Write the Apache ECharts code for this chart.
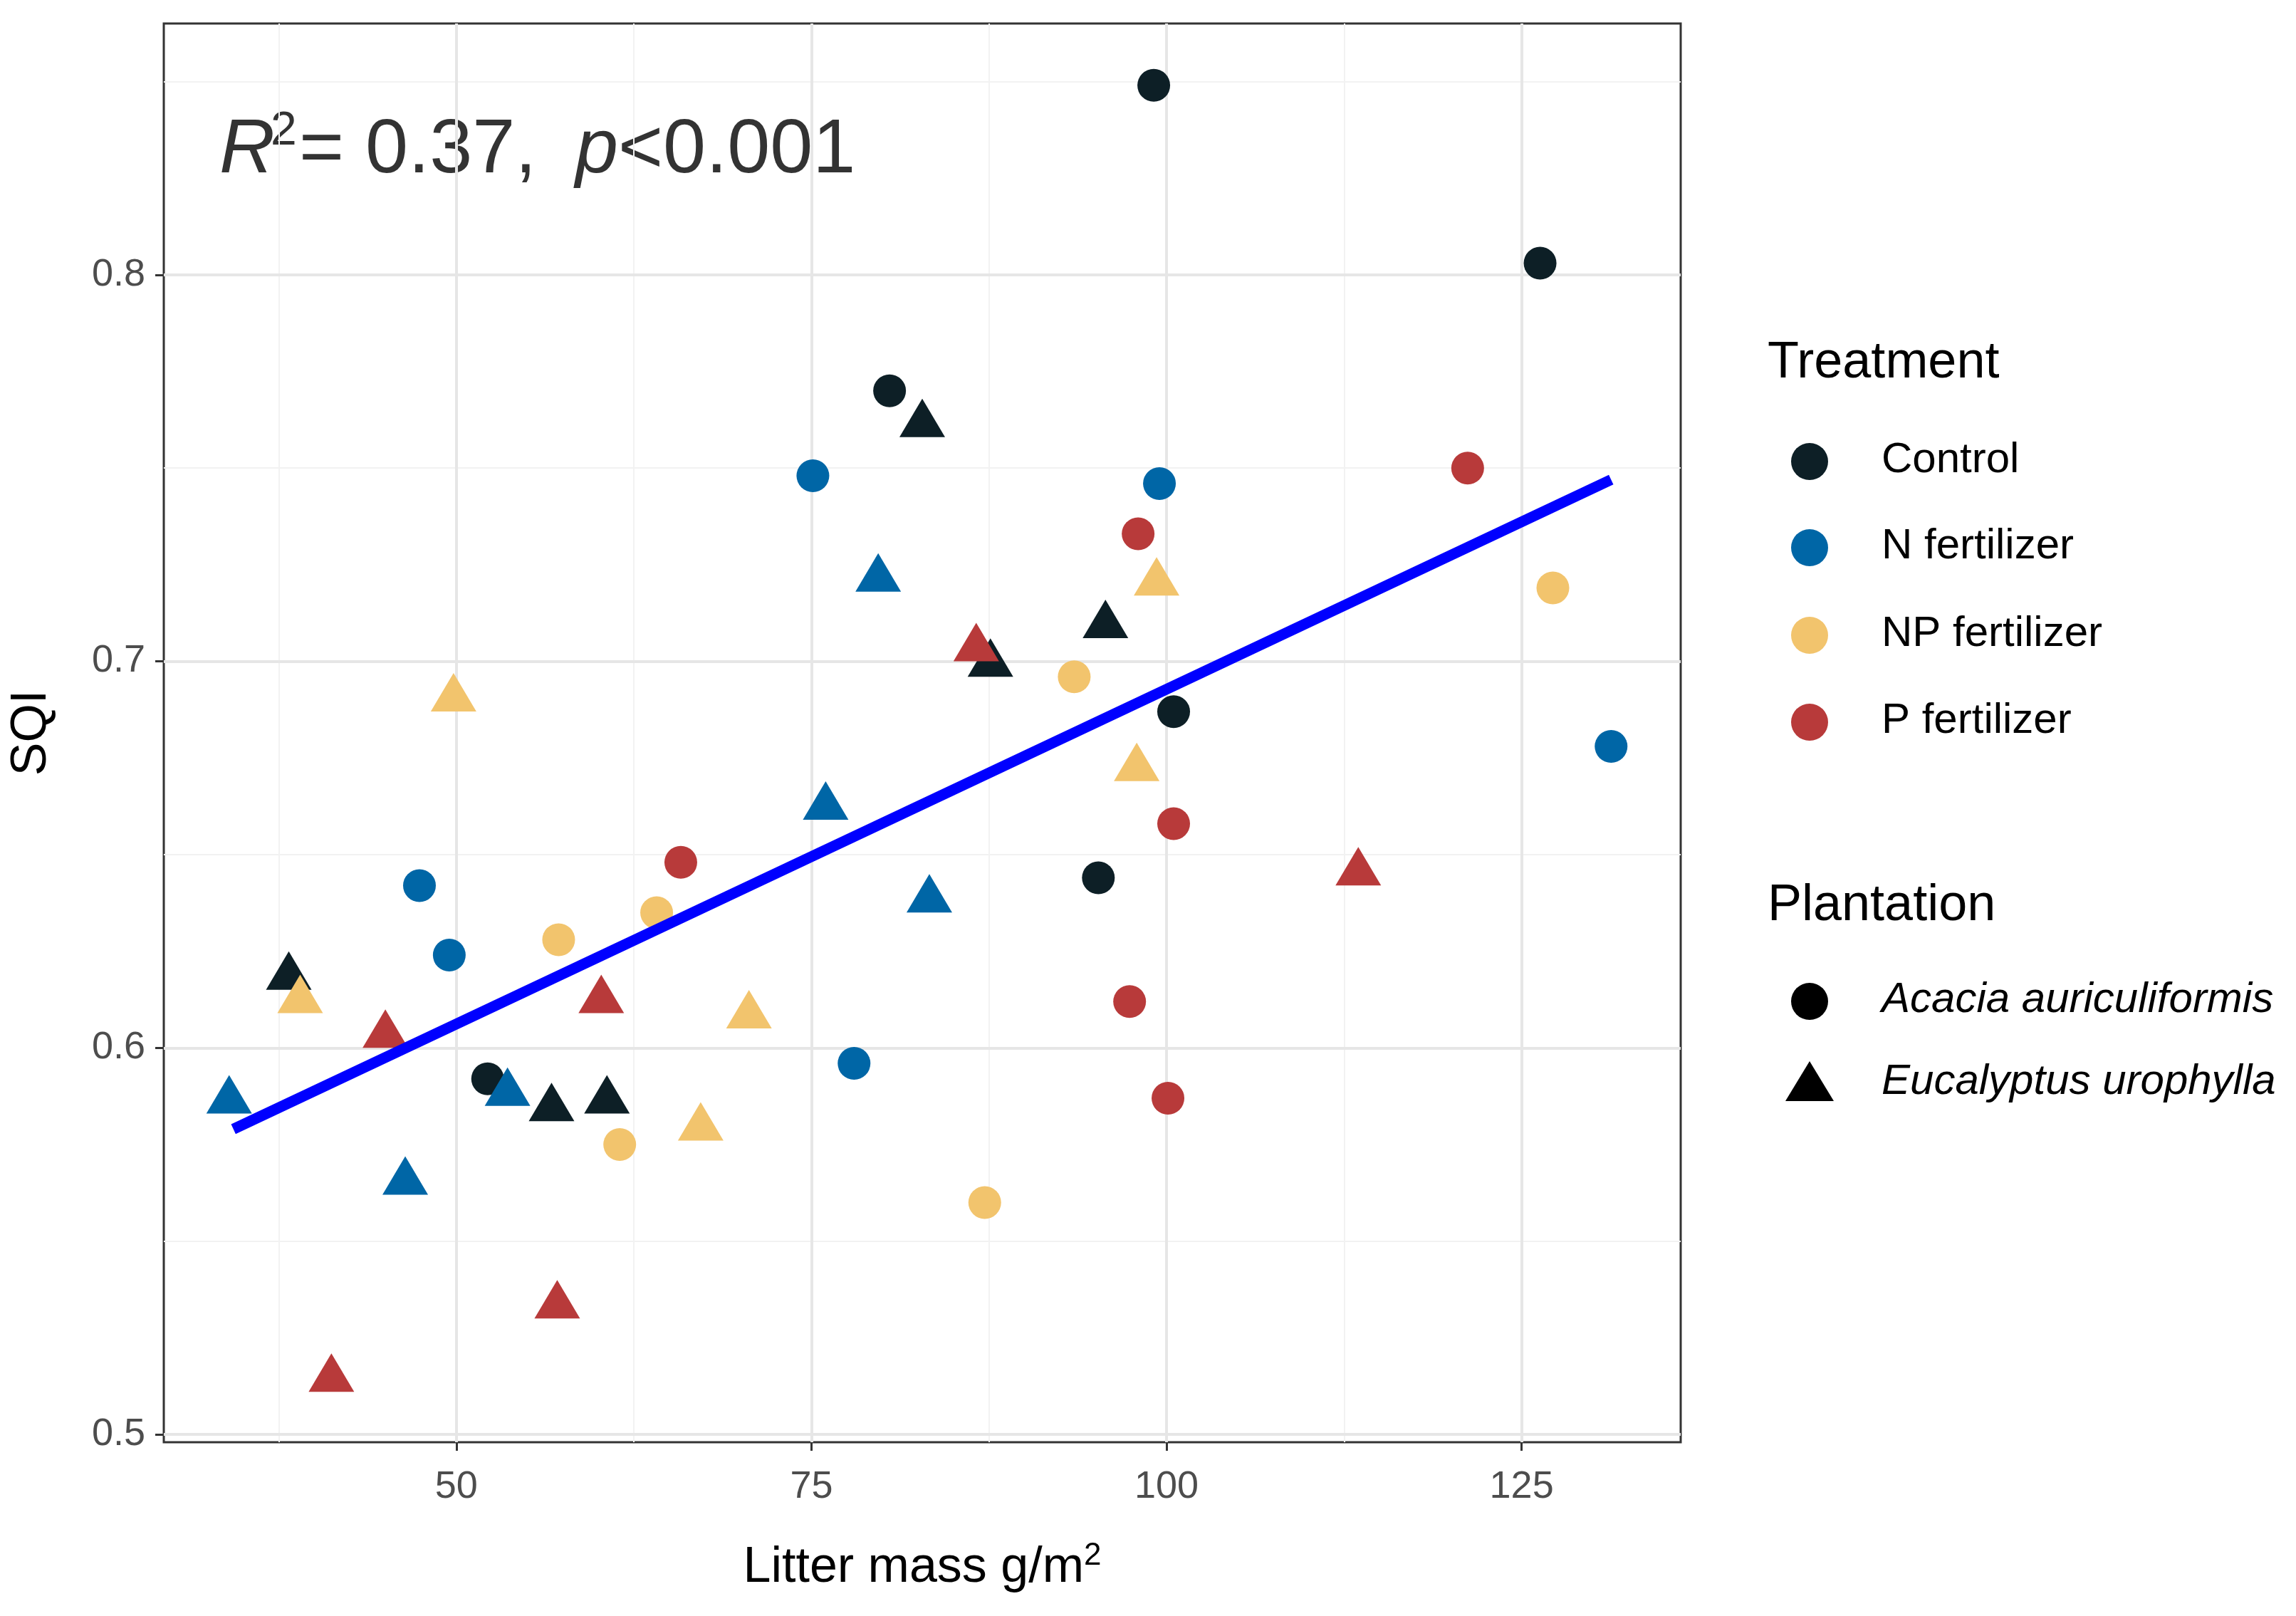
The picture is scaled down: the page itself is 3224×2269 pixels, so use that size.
<!DOCTYPE html><html><head><meta charset="utf-8">
<script src="https://cdn.jsdelivr.net/npm/echarts@6/dist/echarts.min.js"></script>
<style>html,body{margin:0;background:#fff}#c{width:3224px;height:2269px}</style></head><body><div id="c"></div>
<script>
const treatments=["Control","N fertilizer","NP fertilizer","P fertilizer"];
const colors=["#0d1f26","#0066a6","#f2c46d","#b83a3a"];
const plantations=["Acacia auriculiformis","Eucalyptus urophylla"];
const controlAcacia=[[99.1,0.849],[126.3,0.803],[80.5,0.770],[100.5,0.687],[95.2,0.644],[52.2,0.592]];
const controlEuc=[[82.8,0.763],[95.7,0.711],[87.6,0.701],[38.2,0.620],[56.7,0.586],[60.6,0.588]];
const nAcacia=[[75.1,0.748],[99.5,0.746],[131.3,0.678],[47.4,0.642],[49.5,0.624],[78.0,0.596]];
const nEuc=[[79.7,0.723],[76.0,0.664],[83.3,0.640],[34.0,0.588],[53.6,0.590],[46.4,0.567]];
const npAcacia=[[127.2,0.719],[93.5,0.696],[57.2,0.628],[64.1,0.635],[61.5,0.575],[87.2,0.560]];
const npEuc=[[99.3,0.722],[49.8,0.692],[97.9,0.674],[39.0,0.614],[70.6,0.610],[67.2,0.581]];
const pAcacia=[[121.2,0.750],[98.0,0.733],[100.5,0.658],[65.8,0.648],[97.4,0.612],[100.1,0.587]];
const pEuc=[[86.6,0.705],[113.5,0.647],[45.0,0.605],[60.2,0.614],[57.1,0.535],[41.2,0.516]];
const fitLine=[[34.3,0.579],[131.3,0.747]];
const xTicks=[50,75,100,125], xMinor=[37.5,62.5,87.5,112.5];
const yTicks=[0.5,0.6,0.7,0.8], yMinor=[0.55,0.65,0.75,0.85];
const acacia=[controlAcacia,nAcacia,npAcacia,pAcacia], euc=[controlEuc,nEuc,npEuc,pEuc];
const F='"Liberation Sans", Arial, sans-serif';

const gridLines={type:'line',data:[],silent:true,z:0,zlevel:0,markLine:{silent:true,symbol:'none',label:{show:false},animation:false,
 data:[...xMinor.map(v=>({xAxis:v,lineStyle:{color:'#f2f2f2',width:2,type:'solid'}})),
       ...yMinor.map(v=>({yAxis:v,lineStyle:{color:'#f2f2f2',width:2,type:'solid'}})),
       ...xTicks.map(v=>({xAxis:v,lineStyle:{color:'#e6e6e6',width:4,type:'solid'}})),
       ...yTicks.map(v=>({yAxis:v,lineStyle:{color:'#e6e6e6',width:4,type:'solid'}}))]}};
const series=[gridLines];
treatments.forEach((t,i)=>{
 series.push({type:'scatter',data:acacia[i],symbol:'circle',symbolSize:46,itemStyle:{color:colors[i],opacity:1},zlevel:1});
 series.push({type:'scatter',data:euc[i],symbol:'triangle',symbolSize:[64,54],itemStyle:{color:colors[i],opacity:1},zlevel:1});
});
series.push({type:'line',data:fitLine,symbol:'none',lineStyle:{color:'#0000ff',width:15},zlevel:1,z:5});

const lg=[];
lg.push({type:'text',left:2482,top:474,style:{text:'Treatment',font:'72px '+F,fill:'#000'}});
const ty=[648,769,892,1014];
treatments.forEach((t,i)=>{
 lg.push({type:'circle',shape:{cx:2541,cy:ty[i],r:26},style:{fill:colors[i]}});
 lg.push({type:'text',left:2642,top:ty[i]-32,style:{text:t,font:'60px '+F,fill:'#000'}});
});
lg.push({type:'text',left:2482,top:1236,style:{text:'Plantation',font:'72px '+F,fill:'#000'}});
lg.push({type:'circle',shape:{cx:2541,cy:1406,r:26},style:{fill:'#000'}});
lg.push({type:'polygon',shape:{points:[[2541,1490],[2507,1546],[2575,1546]]},style:{fill:'#000'}});
plantations.forEach((p,i)=>lg.push({type:'text',left:2642,top:[1406,1521][i]-32,style:{text:p,font:'italic 60px '+F,fill:'#000'}}));
lg.push({type:'text',left:308,top:158,style:{text:'R',font:'italic 108px '+F,fill:'#333'}});
lg.push({type:'text',left:380,top:152,style:{text:'2',font:'66px '+F,fill:'#333'}});
lg.push({type:'text',left:420,top:158,style:{text:'= 0.37,',font:'108px '+F,fill:'#333'}});
lg.push({type:'text',left:808,top:158,style:{text:'p',font:'italic 108px '+F,fill:'#333'}});
lg.push({type:'text',left:868,top:158,style:{text:'<0.001',font:'108px '+F,fill:'#333'}});

const ax={axisLine:{show:false},splitLine:{show:false}};
const chart=echarts.init(document.getElementById('c'));
chart.setOption({animation:false,
 grid:{left:230,right:3224-2360,top:33,bottom:244,show:true,borderColor:'#333',borderWidth:3,backgroundColor:'#fff'},
 xAxis:{type:'value',min:29.4,max:136.2,...ax,name:'Litter mass g/m{s|2}',nameLocation:'middle',nameGap:138,
  nameTextStyle:{fontSize:70,fontFamily:F,color:'#000',rich:{s:{fontSize:44,fontFamily:F,verticalAlign:'top',padding:[0,0,34,0],color:'#000'}}},
  axisTick:{show:true,length:12,lineStyle:{color:'#333',width:3},customValues:xTicks},
  axisLabel:{fontSize:54,fontFamily:F,color:'#4d4d4d',margin:36,customValues:xTicks}},
 yAxis:{type:'value',min:0.498,max:0.865,...ax,name:'SQI',nameLocation:'middle',nameGap:150,
  nameTextStyle:{fontSize:70,fontFamily:F,color:'#000'},
  axisTick:{show:true,length:12,lineStyle:{color:'#333',width:3},customValues:yTicks},
  axisLabel:{fontSize:54,fontFamily:F,color:'#4d4d4d',margin:26,customValues:yTicks,formatter:v=>v.toFixed(1)}},
 series,graphic:lg});
</script></body></html>
